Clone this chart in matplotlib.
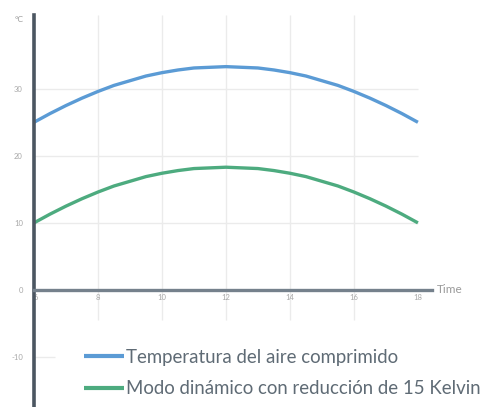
import matplotlib.pyplot as plt

# hours of the day (half-hour steps)
hours = [6, 6.5, 7, 7.5, 8, 8.5, 9, 9.5, 10, 10.5, 11, 11.5, 12,
         12.5, 13, 13.5, 14, 14.5, 15, 15.5, 16, 16.5, 17, 17.5, 18]

# temperatures (°C)
temp_aire = [25.0, 26.3, 27.5, 28.6, 29.6, 30.5, 31.2, 31.9, 32.4, 32.8, 33.1, 33.2, 33.3,
             33.2, 33.1, 32.8, 32.4, 31.9, 31.2, 30.5, 29.6, 28.6, 27.5, 26.3, 25.0]
temp_dinamico = [10.0, 11.3, 12.5, 13.6, 14.6, 15.5, 16.2, 16.9, 17.4, 17.8, 18.1, 18.2, 18.3,
                 18.2, 18.1, 17.8, 17.4, 16.9, 16.2, 15.5, 14.6, 13.6, 12.5, 11.3, 10.0]

x_ticks = [6, 8, 10, 12, 14, 16, 18]
y_ticks = [-10, 0, 10, 20, 30]
labels = ['Temperatura del aire comprimido', 'Modo dinámico con reducción de 15 Kelvin']

plt.rcParams['font.family'] = ['Lato', 'DejaVu Sans']

fig = plt.figure(figsize=(4.86, 4.07), dpi=100)
ax = fig.add_axes([34 / 486, 0, (432 - 34) / 486, 392 / 407])
ax.set_xlim(6, 18.44)
ax.set_ylim(-17.46, 41)

grid_c = '#ebebeb'
ax.hlines([10, 20, 30], 6, 18, color=grid_c, lw=1, zorder=0)
ax.hlines([-10], 6, 6.65, color=grid_c, lw=1, zorder=0)
ax.vlines([8, 10, 12, 14, 16], -4.5, 41, color=grid_c, lw=1, zorder=0)

ax.plot(hours, temp_aire, color='#5b9bd5', lw=2.4, solid_capstyle='butt', label=labels[0])
ax.plot(hours, temp_dinamico, color='#4dab7f', lw=2.4, solid_capstyle='butt', label=labels[1])

for s in ['top', 'right']:
    ax.spines[s].set_visible(False)
ax.spines['left'].set_color('#4b5661')
ax.spines['left'].set_linewidth(2.6)
ax.spines['bottom'].set_position(('data', 0))
ax.spines['bottom'].set_color('#75818c')
ax.spines['bottom'].set_linewidth(2.4)

ax.set_xticks(x_ticks)
ax.set_xticklabels([str(t) for t in x_ticks])
ax.set_yticks(y_ticks)
ax.set_yticklabels([str(t) for t in y_ticks])
ax.tick_params(axis='both', length=0, labelsize=5.5, labelcolor='#a8a8a8')
ax.tick_params(axis='y', pad=8)
ax.tick_params(axis='x', pad=3)
ax.get_xticklabels()[0].set_horizontalalignment('left')

ax.text(18.6, 0, 'Time', fontsize=8.5, color='#9a9a9a', va='center', ha='left', clip_on=False)
fig.text(19 / 486, 1 - 19 / 407, '°C', fontsize=6, color='#9a9a9a', va='center', ha='center')

leg = ax.legend(loc='lower left', bbox_to_anchor=(46 / 398, 6 / 392), frameon=False,
                borderpad=0.2, borderaxespad=0,
                fontsize=13.4, handlelength=2.15, handletextpad=0.1, labelspacing=0.78,
                labelcolor='#5f6b75')
for h in leg.get_lines():
    h.set_linewidth(3)

fig.savefig('out.png', dpi=100)
